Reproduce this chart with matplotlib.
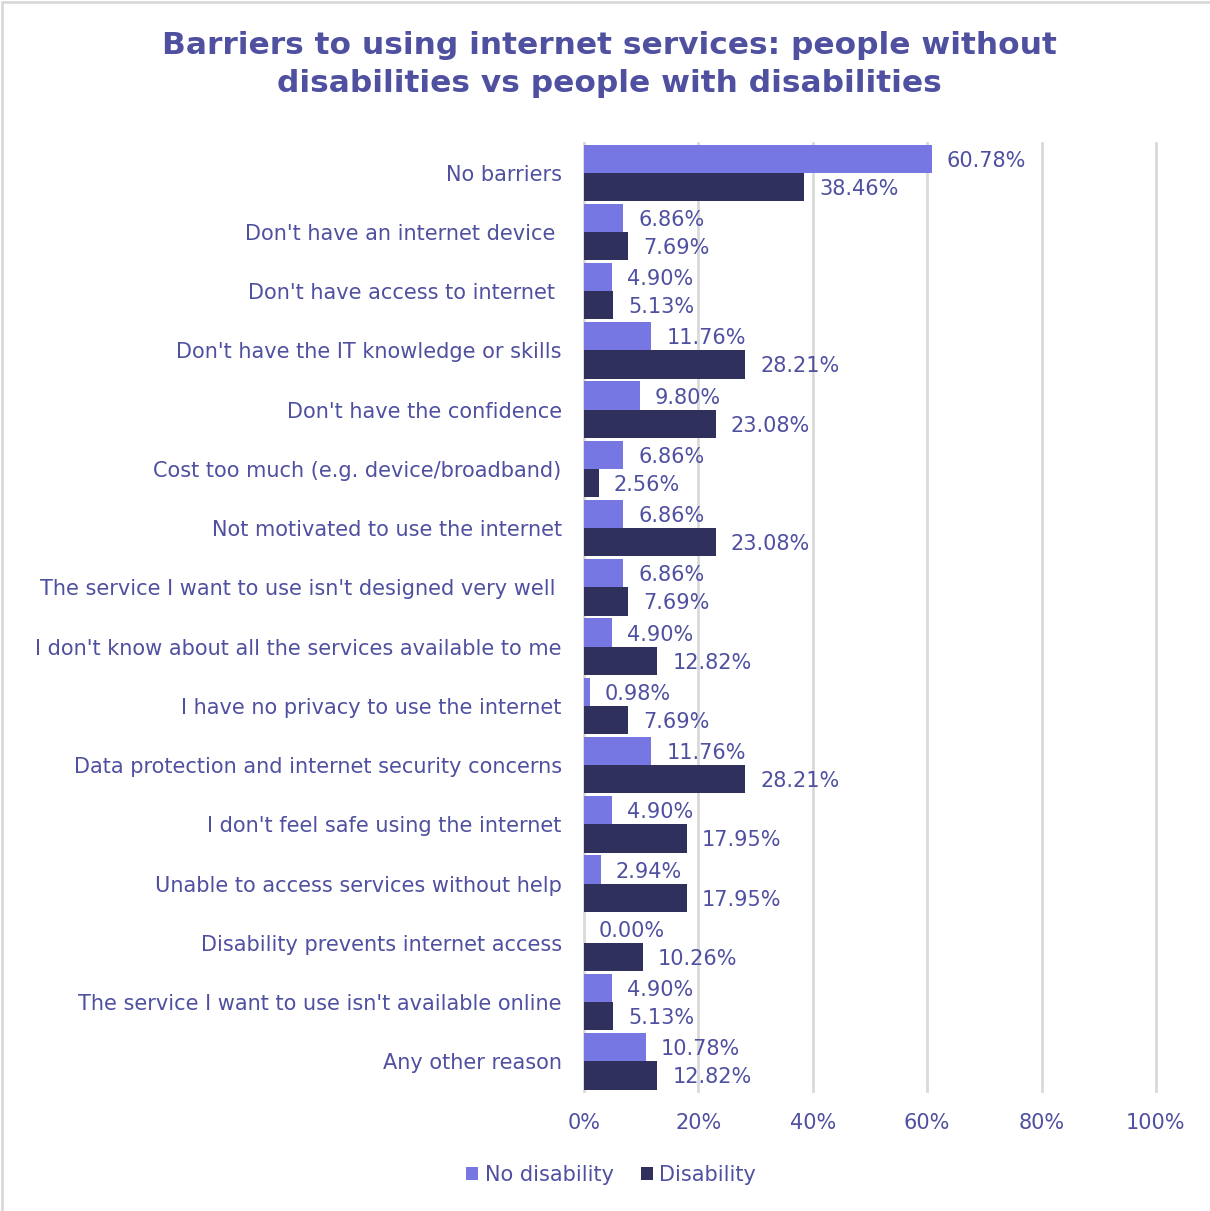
import numpy as np
import matplotlib.pyplot as plt
from matplotlib.patches import Rectangle

plt.rcParams['font.family'] = ['DejaVu Sans']

categories = [
    "No barriers",
    "Don't have an internet device ",
    "Don't have access to internet ",
    "Don't have the IT knowledge or skills",
    "Don't have the confidence",
    "Cost too much (e.g. device/broadband)",
    "Not motivated to use the internet",
    "The service I want to use isn't designed very well ",
    "I don't know about all the services available to me",
    "I have no privacy to use the internet",
    "Data protection and internet security concerns",
    "I don't feel safe using the internet",
    "Unable to access services without help",
    "Disability prevents internet access",
    "The service I want to use isn't available online",
    "Any other reason",
]
no_disability = [60.78, 6.86, 4.90, 11.76, 9.80, 6.86, 6.86, 6.86, 4.90, 0.98,
                 11.76, 4.90, 2.94, 0.00, 4.90, 10.78]
disability = [38.46, 7.69, 5.13, 28.21, 23.08, 2.56, 23.08, 7.69, 12.82, 7.69,
              28.21, 17.95, 17.95, 10.26, 5.13, 12.82]
series_names = ["No disability", "Disability"]
xticks = [0, 20, 40, 60, 80, 100]

TXT = '#4f50a0'
LIGHT = '#7677e3'
DARK = '#2f305c'
GRID = '#d9d9d9'

fig = plt.figure(figsize=(12.1, 12.11), dpi=100)
ax = fig.add_axes([0.4826, 0.0991, 0.4727, 0.7828])

y = np.arange(len(categories))
h = 0.475
b1 = ax.barh(y - h / 2, no_disability, height=h, color=LIGHT, label=series_names[0], zorder=2)
b2 = ax.barh(y + h / 2, disability, height=h, color=DARK, label=series_names[1], zorder=2)

for bars, vals in ((b1, no_disability), (b2, disability)):
    for bar, v in zip(bars, vals):
        ax.annotate(f"{v:.2f}%", (v, bar.get_y() + bar.get_height() / 2),
                    xytext=(15, -2), textcoords='offset pixels',
                    ha='left', va='center', fontsize=15, color=TXT, zorder=3)

ax.set_xlim(0, 100)
ax.set_ylim(len(categories) - 0.5, -0.5)
ax.set_xticks(xticks)
ax.set_xticklabels([f"{t}%" for t in xticks])
ax.set_yticks(y)
ax.set_yticklabels(categories)
ax.tick_params(axis='both', length=0, labelcolor=TXT, labelsize=15)
ax.tick_params(axis='y', pad=16)
ax.tick_params(axis='x', pad=16)
ax.xaxis.grid(True, color=GRID, linewidth=2, zorder=0)
for gl in ax.get_xgridlines():
    gl.set_clip_on(False)
for s in ax.spines.values():
    s.set_visible(False)

fig.text(0.504, 0.974,
         "Barriers to using internet services: people without\ndisabilities vs people with disabilities",
         ha='center', va='top', fontsize=22.5, fontweight='bold', color=TXT, linespacing=1.35)

leg = fig.legend(handles=[b1, b2], loc='center', bbox_to_anchor=(0.505, 0.030), ncol=2,
                 frameon=False, fontsize=15, handlelength=0.6, handleheight=0.6,
                 handletextpad=0.3, columnspacing=1.3)
for t in leg.get_texts():
    t.set_color(TXT)

# outer chart border
fig.patches.append(Rectangle((0.0015, -0.01), 1.2, 1.008, transform=fig.transFigure,
                             fill=False, edgecolor='#d9d9d9', linewidth=2))

fig.savefig("out.png", dpi=100)
